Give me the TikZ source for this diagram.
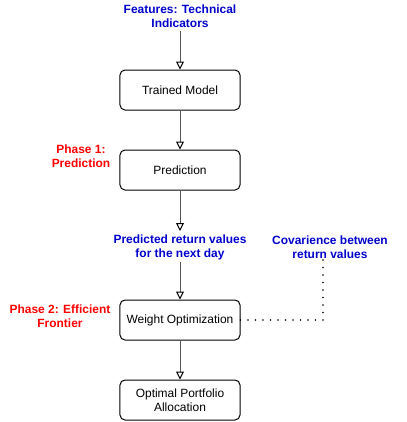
\documentclass[tikz,border=0pt]{standalone}
\usepackage{fontspec}
\setmainfont{Liberation Sans}
\usetikzlibrary{arrows.meta}
\definecolor{lblblue}{HTML}{0000CC}
\definecolor{lblred}{HTML}{FF0000}
\definecolor{linegray}{HTML}{555555}
\tikzset{
  stepbox/.style={draw, line width=1bp, rounded corners=5bp, minimum width=120bp, minimum height=40bp,
    align=center, font=\fontsize{12}{14}\selectfont, inner sep=0pt},
  bluelbl/.style={text=lblblue, font=\fontsize{12}{14}\selectfont\bfseries, align=center, inner sep=0pt},
  redlbl/.style={text=lblred, font=\fontsize{12}{14}\selectfont\bfseries, align=center, inner sep=0pt},
  flow/.style={draw=linegray, line width=1bp, -{Triangle[open, length=8bp, width=8bp, line width=1bp, color=black]}}
}
\begin{document}
\begin{tikzpicture}[x=1bp, y=-1bp]
\useasboundingbox (0,0) rectangle (407,422);

% caselle
\node[stepbox] (model) at (180,90) {Trained Model};
\node[stepbox] (pred) at (180,170) {Prediction};
\node[stepbox] (weight) at (180,320) {Weight Optimization};
\node[stepbox] (alloc) at (180,400) {Optimal Portfolio\\Allocation};

% etichette
\node[bluelbl] (feat) at (180,16) {Features: Technical\\Indicators};
\node[bluelbl] (ret) at (180,247) {Predicted return values\\for the next day};
\node[bluelbl] (cov) at (330,247) {Covarience between\\return values};
\node[redlbl] (ph1) at (81,156) {Phase 1:\\Prediction};
\node[redlbl] (ph2) at (60,316) {Phase 2: Efficient\\Frontier};

% frecce
\draw[flow] (feat.south |- 0,31) -- (model.north);
\draw[flow] (model) -- (pred);
\draw[flow] (pred) -- (180,231);
\draw[flow] (180,262) -- (weight.north);
\draw[flow] (weight) -- (alloc);

% covarianza, linea punteggiata
\coordinate (corner) at (323,320);
\draw[line width=1.8bp, line cap=round, dash pattern=on 0pt off 7.5bp] (weight.east) -- (corner) -- (cov.south -| corner);

\end{tikzpicture}
\end{document}
